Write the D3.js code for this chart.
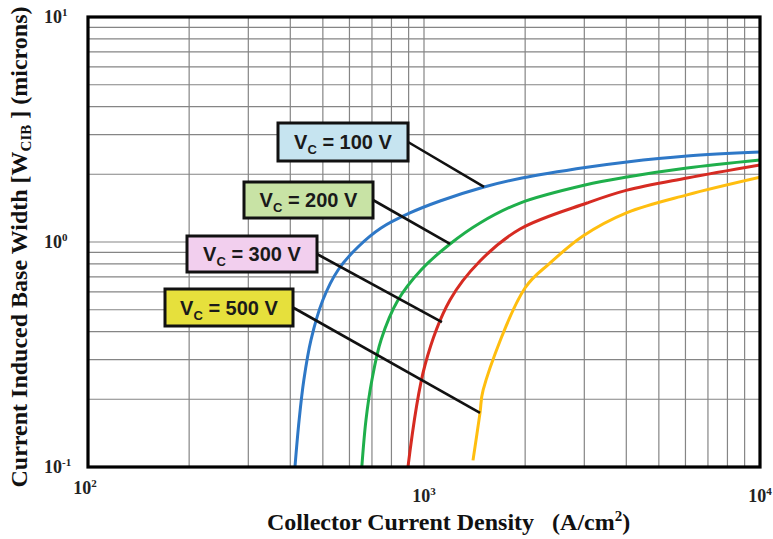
<!DOCTYPE html>
<html>
<head>
<meta charset="utf-8">
<script src="https://cdn.jsdelivr.net/npm/d3@7"></script>
<style>
  html, body { margin: 0; padding: 0; background: #fff; }
  svg { display: block; }
</style>
</head>
<body>
<svg id="chart" width="773" height="539"></svg>
<script>
// Collector current density (A/cm²) vs. current induced base width (microns)
const collectorVoltages = [100, 200, 300, 500];

const j100 = [413, 425, 439, 461, 500, 555, 636, 745, 908, 1116, 1509, 1957, 3055, 4020, 6065, 10000];
const w100 = [0.1, 0.162, 0.244, 0.367, 0.552, 0.751, 0.95, 1.154, 1.346, 1.521, 1.756, 1.925, 2.15, 2.27, 2.41, 2.51];

const j200 = [653, 672, 700, 745, 837, 980, 1195, 1468, 1931, 3015, 4020, 6065, 10000];
const w200 = [0.1, 0.162, 0.244, 0.367, 0.552, 0.751, 0.98, 1.215, 1.49, 1.792, 1.945, 2.132, 2.314];

const j300 = [896, 1007, 1195, 1468, 1931, 3055, 4020, 6065, 10000];
const w300 = [0.1, 0.284, 0.552, 0.823, 1.142, 1.49, 1.70, 1.925, 2.2];

const j500 = [1399, 1468, 1500, 1998, 2371, 2973, 4020, 6065, 10000];
const w500 = [0.107, 0.174, 0.22, 0.6245, 0.806, 1.063, 1.35, 1.62, 1.94];

// point on each curve that its callout points to
const calloutJ = [1509, 1195, 1131, 1468];
const calloutW = [1.756, 0.98, 0.44, 0.174];

const xTickExponents = [2, 3, 4];
const yTickExponents = [1, 0, -1];

// ---- styling / layout ----
const colors = ["#2E78C7", "#1FAF4B", "#D62B22", "#FFBE0F"];
const boxFills = ["#C6E4F0", "#C8E3A5", "#F2CFEE", "#E6E03C"];
const boxes = [
  { x: 278, y: 123, w: 130, h: 38 },
  { x: 244, y: 182, w: 129, h: 36 },
  { x: 187, y: 236, w: 130, h: 36 },
  { x: 165, y: 289, w: 128, h: 37 }
];

const margin = { left: 88, right: 13, top: 17, bottom: 72 };
const W = 773, H = 539;
const innerW = W - margin.left - margin.right;
const innerH = H - margin.top - margin.bottom;

const svg = d3.select("#chart");

const x = d3.scaleLog().domain([1e2, 1e4]).range([margin.left, margin.left + innerW]);
const y = d3.scaleLog().domain([1e-1, 1e1]).range([margin.top + innerH, margin.top]);

// ---- grid ----
const grid = svg.append("g").attr("stroke", "#858585").attr("stroke-width", 1.2);
const xMinor = [];
for (let d = 2; d < 4; d++) for (let m = 1; m <= 9; m++) xMinor.push(m * Math.pow(10, d));
const yMinor = [];
for (let d = -1; d < 1; d++) for (let m = 1; m <= 9; m++) yMinor.push(m * Math.pow(10, d));

grid.selectAll("line.v").data(xMinor.filter(v => v > 100)).join("line")
  .attr("class", "v")
  .attr("x1", d => x(d)).attr("x2", d => x(d))
  .attr("y1", y.range()[0]).attr("y2", y.range()[1]);
grid.selectAll("line.h").data(yMinor.filter(v => v > 0.1)).join("line")
  .attr("class", "h")
  .attr("y1", d => y(d)).attr("y2", d => y(d))
  .attr("x1", x.range()[0]).attr("x2", x.range()[1]);

// ---- curves ----
svg.append("defs").append("clipPath").attr("id", "plotClip")
  .append("rect").attr("x", margin.left).attr("y", margin.top)
  .attr("width", innerW).attr("height", innerH);

const seriesJ = [j100, j200, j300, j500];
const seriesW = [w100, w200, w300, w500];
const curves = svg.append("g").attr("clip-path", "url(#plotClip)");
const line = d3.line()
  .x(d => x(d[0])).y(d => y(d[1]))
  .curve(d3.curveCatmullRom.alpha(0.5));
seriesJ.forEach((js, i) => {
  const pts = js.map((j, k) => [j, seriesW[i][k]]);
  curves.append("path")
    .attr("d", line(pts))
    .attr("fill", "none")
    .attr("stroke", colors[i])
    .attr("stroke-width", 3)
    .attr("stroke-linejoin", "round");
});

// ---- callouts ----
const callouts = svg.append("g");
collectorVoltages.forEach((v, i) => {
  const b = boxes[i];
  callouts.append("line")
    .attr("x1", b.x + b.w).attr("y1", b.y + b.h / 2)
    .attr("x2", x(calloutJ[i])).attr("y2", y(calloutW[i]))
    .attr("stroke", "#111").attr("stroke-width", 2.6);
  callouts.append("rect")
    .attr("x", b.x).attr("y", b.y).attr("width", b.w).attr("height", b.h)
    .attr("fill", boxFills[i]).attr("stroke", "#111").attr("stroke-width", 3);
  const t = callouts.append("text")
    .attr("x", b.x + b.w / 2).attr("y", b.y + b.h / 2 + 7)
    .attr("text-anchor", "middle")
    .attr("font-family", "'Liberation Sans', Arial, sans-serif")
    .attr("font-weight", "bold").attr("font-size", 20).attr("fill", "#1a1a1a");
  t.append("tspan").text("V");
  t.append("tspan").attr("font-size", 13).attr("dy", 5).text("C");
  t.append("tspan").attr("dy", -5).text(` = ${v} V`);
});

// ---- frame ----
svg.append("rect")
  .attr("x", margin.left).attr("y", margin.top)
  .attr("width", innerW).attr("height", innerH)
  .attr("fill", "none").attr("stroke", "#000").attr("stroke-width", 3.2);

// ---- tick labels ----
const serif = "'Liberation Serif', 'Times New Roman', serif";
function powerLabel(sel, exp) {
  sel.append("tspan").text("10");
  sel.append("tspan").attr("font-size", 11).attr("dy", -7).text(String(exp));
}
yTickExponents.forEach(e => {
  const t = svg.append("text")
    .attr("x", 44).attr("y", y(Math.pow(10, e)) + 6)
    .attr("font-family", serif).attr("font-weight", "bold")
    .attr("font-size", 18).attr("fill", "#222");
  powerLabel(t, e);
});
xTickExponents.forEach(e => {
  const t = svg.append("text")
    .attr("x", x(Math.pow(10, e)) + (e === 2 ? -3 : 0))
    .attr("y", e === 2 ? 494 : 502)
    .attr("text-anchor", "middle")
    .attr("font-family", serif).attr("font-weight", "bold")
    .attr("font-size", 18).attr("fill", "#222");
  powerLabel(t, e);
});

// ---- axis titles ----
const xt = svg.append("text")
  .attr("x", 267).attr("y", 530)
  .attr("font-family", serif).attr("font-weight", "bold")
  .attr("font-size", 24).attr("fill", "#111");
xt.append("tspan").text("Collector Current Density\u00a0\u00a0\u00a0(A/cm");
xt.append("tspan").attr("font-size", 15).attr("dy", -9).text("2");
xt.append("tspan").attr("dy", 9).text(")");

const yt = svg.append("text")
  .attr("transform", "translate(27,247) rotate(-90)")
  .attr("text-anchor", "middle")
  .attr("font-family", serif).attr("font-weight", "bold")
  .attr("font-size", 24).attr("fill", "#111");
yt.append("tspan").text("Current Induced Base Width [W");
yt.append("tspan").attr("font-size", 15).attr("dy", 4).text("CIB");
yt.append("tspan").attr("dy", -4).text("\u00a0] (microns)");
</script>
</body>
</html>
